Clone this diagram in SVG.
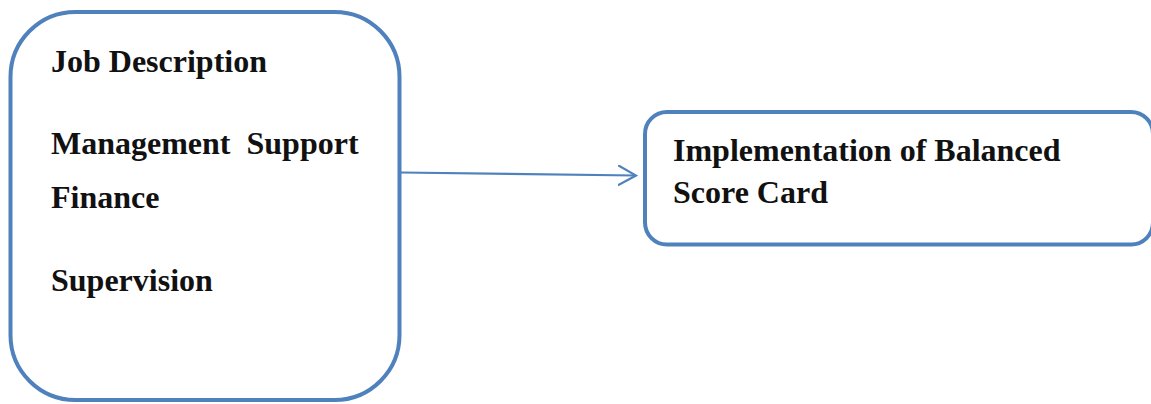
<svg xmlns="http://www.w3.org/2000/svg" width="1151" height="404" viewBox="0 0 1151 404">
  <style>
    .box { fill: #ffffff; stroke: #4f81bd; stroke-width: 4; }
    .label { font-family: "Liberation Serif", "Times New Roman", serif; font-weight: bold; font-size: 32px; fill: #111111; }
    .link { fill: none; stroke: #4f81bd; stroke-width: 2.2; }
  </style>
  <defs>
    <marker id="openArrow" markerWidth="20" markerHeight="24" refX="18" refY="10" orient="auto" markerUnits="userSpaceOnUse">
      <path d="M0,0 L18,10 L0,20" fill="none" stroke="#4f81bd" stroke-width="2.2"/>
    </marker>
  </defs>
  <rect width="1151" height="404" fill="#ffffff"/>

  <g id="factors">
    <rect class="box" x="10.5" y="12" width="389" height="388" rx="65" ry="65"/>
    <text class="label" x="51" y="72">Job Description</text>
    <text class="label" x="51" y="154" xml:space="preserve">Management  Support</text>
    <text class="label" x="51" y="208">Finance</text>
    <text class="label" x="51" y="291">Supervision</text>
  </g>

  <g id="implementation">
    <rect class="box" x="645" y="112" width="508" height="132.5" rx="22" ry="22"/>
    <text class="label" x="673" y="161">Implementation of Balanced</text>
    <text class="label" x="673" y="203">Score Card</text>
  </g>

  <g id="connectors">
    <line class="link" x1="401" y1="172.5" x2="636" y2="175.5" marker-end="url(#openArrow)"/>
  </g>
</svg>
